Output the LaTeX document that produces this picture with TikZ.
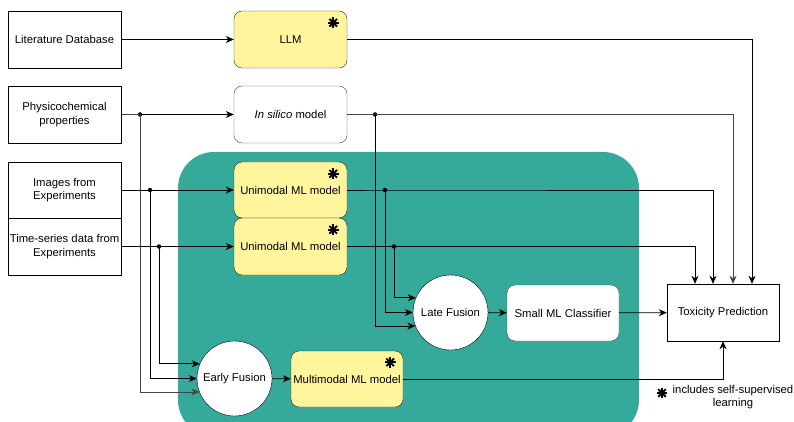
\documentclass[tikz,border=0pt]{standalone}
\usepackage{fontspec}
\setmainfont{Liberation Sans}
\usetikzlibrary{arrows.meta,calc}
\definecolor{tealbg}{HTML}{35AA9A}
\definecolor{yel}{HTML}{FFF59D}
\definecolor{grayline}{HTML}{444444}
\newcommand{\mystar}[1]{%
  \foreach \a in {0,45,90,135}{\draw[line width=1.9pt] ($(#1)+(\a:5.4pt)$) -- ($(#1)+(\a+180:5.4pt)$);}}
\begin{document}
\begin{tikzpicture}[x=1pt,y=-1pt,
  every node/.style={font=\fontsize{11.3}{13.4}\selectfont},
  box/.style={draw, minimum width=113pt, minimum height=57pt, inner sep=1pt, align=center, fill=white},
  ybox/.style={box, rounded corners=8pt, fill=yel, draw=black!85},
  wbox/.style={box, rounded corners=8pt, draw=grayline},
  circ/.style={circle, draw=black, fill=white, minimum size=75pt, inner sep=0pt, align=center},
  arr/.style={-{Stealth[length=8pt,width=7pt,inset=2.5pt]}, line width=0.8pt},
  dot/.style={circle, fill=black, inner sep=0pt, minimum size=4.5pt}]
\useasboundingbox (0,0) rectangle (794,422);
\fill[tealbg, rounded corners=36pt] (178,152) rectangle (639,436);

% nodes
\node[box] (lit) at (64.5,39.5) {Literature Database};
\node[ybox] (llm) at (290.5,39.5) {LLM};
\node[box] (phys) at (64.5,114.5) {Physicochemical\\properties};
\node[wbox] (insilico) at (290.5,114.5) {\textit{In silico} model};
\node[box, minimum height=56pt] (img) at (64.5,190) {Images from\\Experiments};
\node[box] (ts) at (64.5,246.5) {Time-series data from\\Experiments};
\node[ybox, minimum height=56pt] (uni1) at (290.5,190) {Unimodal ML model};
\node[ybox] (uni2) at (290.5,246.5) {Unimodal ML model};
\node[circ] (late) at (450.5,312.5) {Late Fusion};
\node[wbox, minimum width=112pt, minimum height=56pt] (smc) at (563,313) {Small ML Classifier};
\node[box, minimum width=112pt] (tox) at (723,312.5) {Toxicity Prediction};
\node[circ] (early) at (234.5,378.5) {Early Fusion};
\node[ybox, minimum width=112pt, minimum height=56pt] (multi) at (347,379) {Multimodal ML model};
\node[align=center, inner sep=0pt] (legend) at (733,397) {includes self-supervised\\learning};

% asterisks
\coordinate (s1) at ($(llm.north east)+(-14,12)$);
\coordinate (s2) at ($(uni1.north east)+(-14,12)$);
\coordinate (s3) at ($(uni2.north east)+(-14,12)$);
\coordinate (s4) at ($(multi.north east)+(-13,11.5)$);
\coordinate (s5) at (662,393);
\mystar{s1}\mystar{s2}\mystar{s3}\mystar{s4}\mystar{s5}

% junctions
\node[dot] (dphys) at (140,114.5) {};
\node[dot] (dimg) at (150,190) {};
\node[dot] (dts) at (159,246.5) {};
\node[dot] (dsil) at (375,114.5) {};
\node[dot] (du1) at (385,190) {};
\node[dot] (du2) at (394,246.5) {};

% connectors
\draw[arr] (lit) -- (llm);
\draw[arr] (llm.east) -| ($(tox.north)+(29,0)$);
\draw[arr] (phys) -- (insilico);
\draw[arr, grayline] (phys.east) -- (dphys.center) |- (early.201);
\draw[arr, grayline] (insilico.east) -- (dsil.center) -| ($(tox.north)+(10,0)$);
\draw[arr] (dsil.center) |- (late.201);
\draw[arr] (img) -- (uni1);
\draw[arr] (dimg.center) |- (early.180);
\draw[arr] (ts) -- (uni2);
\draw[arr] (dts.center) |- (early.157);
\draw[arr] (uni1.east) -- (du1.center) -| ($(tox.north)+(-10,0)$);
\draw[arr] (du1.center) |- (late.180);
\draw[arr] (uni2.east) -- (du2.center) -| ($(tox.north)+(-28,0)$);
\draw[arr] (du2.center) |- (late.157);
\draw[arr] (late) -- (smc);
\draw[arr] (smc) -- (tox);
\draw[arr] (early) -- (multi);
\draw[arr] (multi.east) -| (tox.south);
\end{tikzpicture}
\end{document}
